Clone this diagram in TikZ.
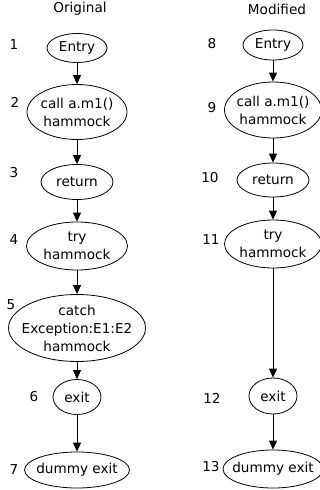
\documentclass[tikz,border=0pt]{standalone}
\usepackage{fontspec}
\setmainfont{DejaVu Sans}
\usetikzlibrary{shapes.geometric,arrows.meta}
\begin{document}
\begin{tikzpicture}[x=1pt,y=-1pt,
  font=\fontsize{13.6}{18}\selectfont,
  ell/.style args={#1/#2/#3}{draw, ellipse, line width=0.8pt, inner sep=0pt,
     minimum width=#1pt, minimum height=#2pt,
     label={[align=center,inner sep=0pt]center:#3}},
  num/.style={inner sep=0pt},
  arr/.style={line width=0.8pt, -{Triangle[width=8pt,length=9pt]}}]
\useasboundingbox (0,0) rectangle (320,490);
\clip (0,0) rectangle (320,490);
% titles
\node[num] (t1) at (80,9) {Original};
\node[num] (t2) at (277,9) {Modified};
% left column
\node[ell=60/29/{Entry}] (n1) at (77,48) {};
\node[ell=100/55/{call a.m1()\\hammock}] (n2) at (77,112) {};
\node[ell=72/35/{return}] (n3) at (77,182) {};
\node[ell=101/48/{try\\hammock}] (n4) at (77,246) {};
\node[ell=137/67/{catch\\Exception:E1:E2\\hammock}] (n5) at (77,328) {};
\node[ell=48/35/{exit}] (n6) at (77,397) {};
\node[ell=105/36/{dummy exit}] (n7) at (77,470) {};
% right column
\node[ell=60/30/{Entry}] (m8) at (273,45) {};
\node[ell=97/56/{call a.m1()\\hammock}] (m9) at (273,110) {};
\node[ell=72/34/{return}] (m10) at (273,180) {};
\node[ell=97/48/{try\\hammock}] (m11) at (273,244) {};
\node[ell=48/36/{exit}] (m12) at (273,396) {};
\node[ell=100/38/{dummy exit}] (m13) at (273,469) {};
% numbers
\node[num] (l1) at (14,45) {1};
\node[num] (l2) at (15,102) {2};
\node[num] (l3) at (14,173) {3};
\node[num] (l4) at (14,240) {4};
\node[num] (l5) at (11,305) {5};
\node[num] (l6) at (34,397) {6};
\node[num] (l7) at (14,470) {7};
\node[num] (l8) at (212,44) {8};
\node[num] (l9) at (212,108) {9};
\node[num] (l10) at (210,178) {10};
\node[num] (l11) at (211,240) {11};
\node[num] (l12) at (212,398) {12};
\node[num] (l13) at (211,467) {13};
% arrows
\draw[arr] (n1) -- (n2);
\draw[arr] (n2) -- (n3);
\draw[arr] (n3) -- (n4);
\draw[arr] (n4) -- (n5);
\draw[arr] (n5) -- (n6);
\draw[arr] (n6) -- (n7);
\draw[arr] (m8) -- (m9);
\draw[arr] (m9) -- (m10);
\draw[arr] (m10) -- (m11);
\draw[arr] (m11) -- (m12);
\draw[arr] (m12) -- (m13);
\end{tikzpicture}
\end{document}
